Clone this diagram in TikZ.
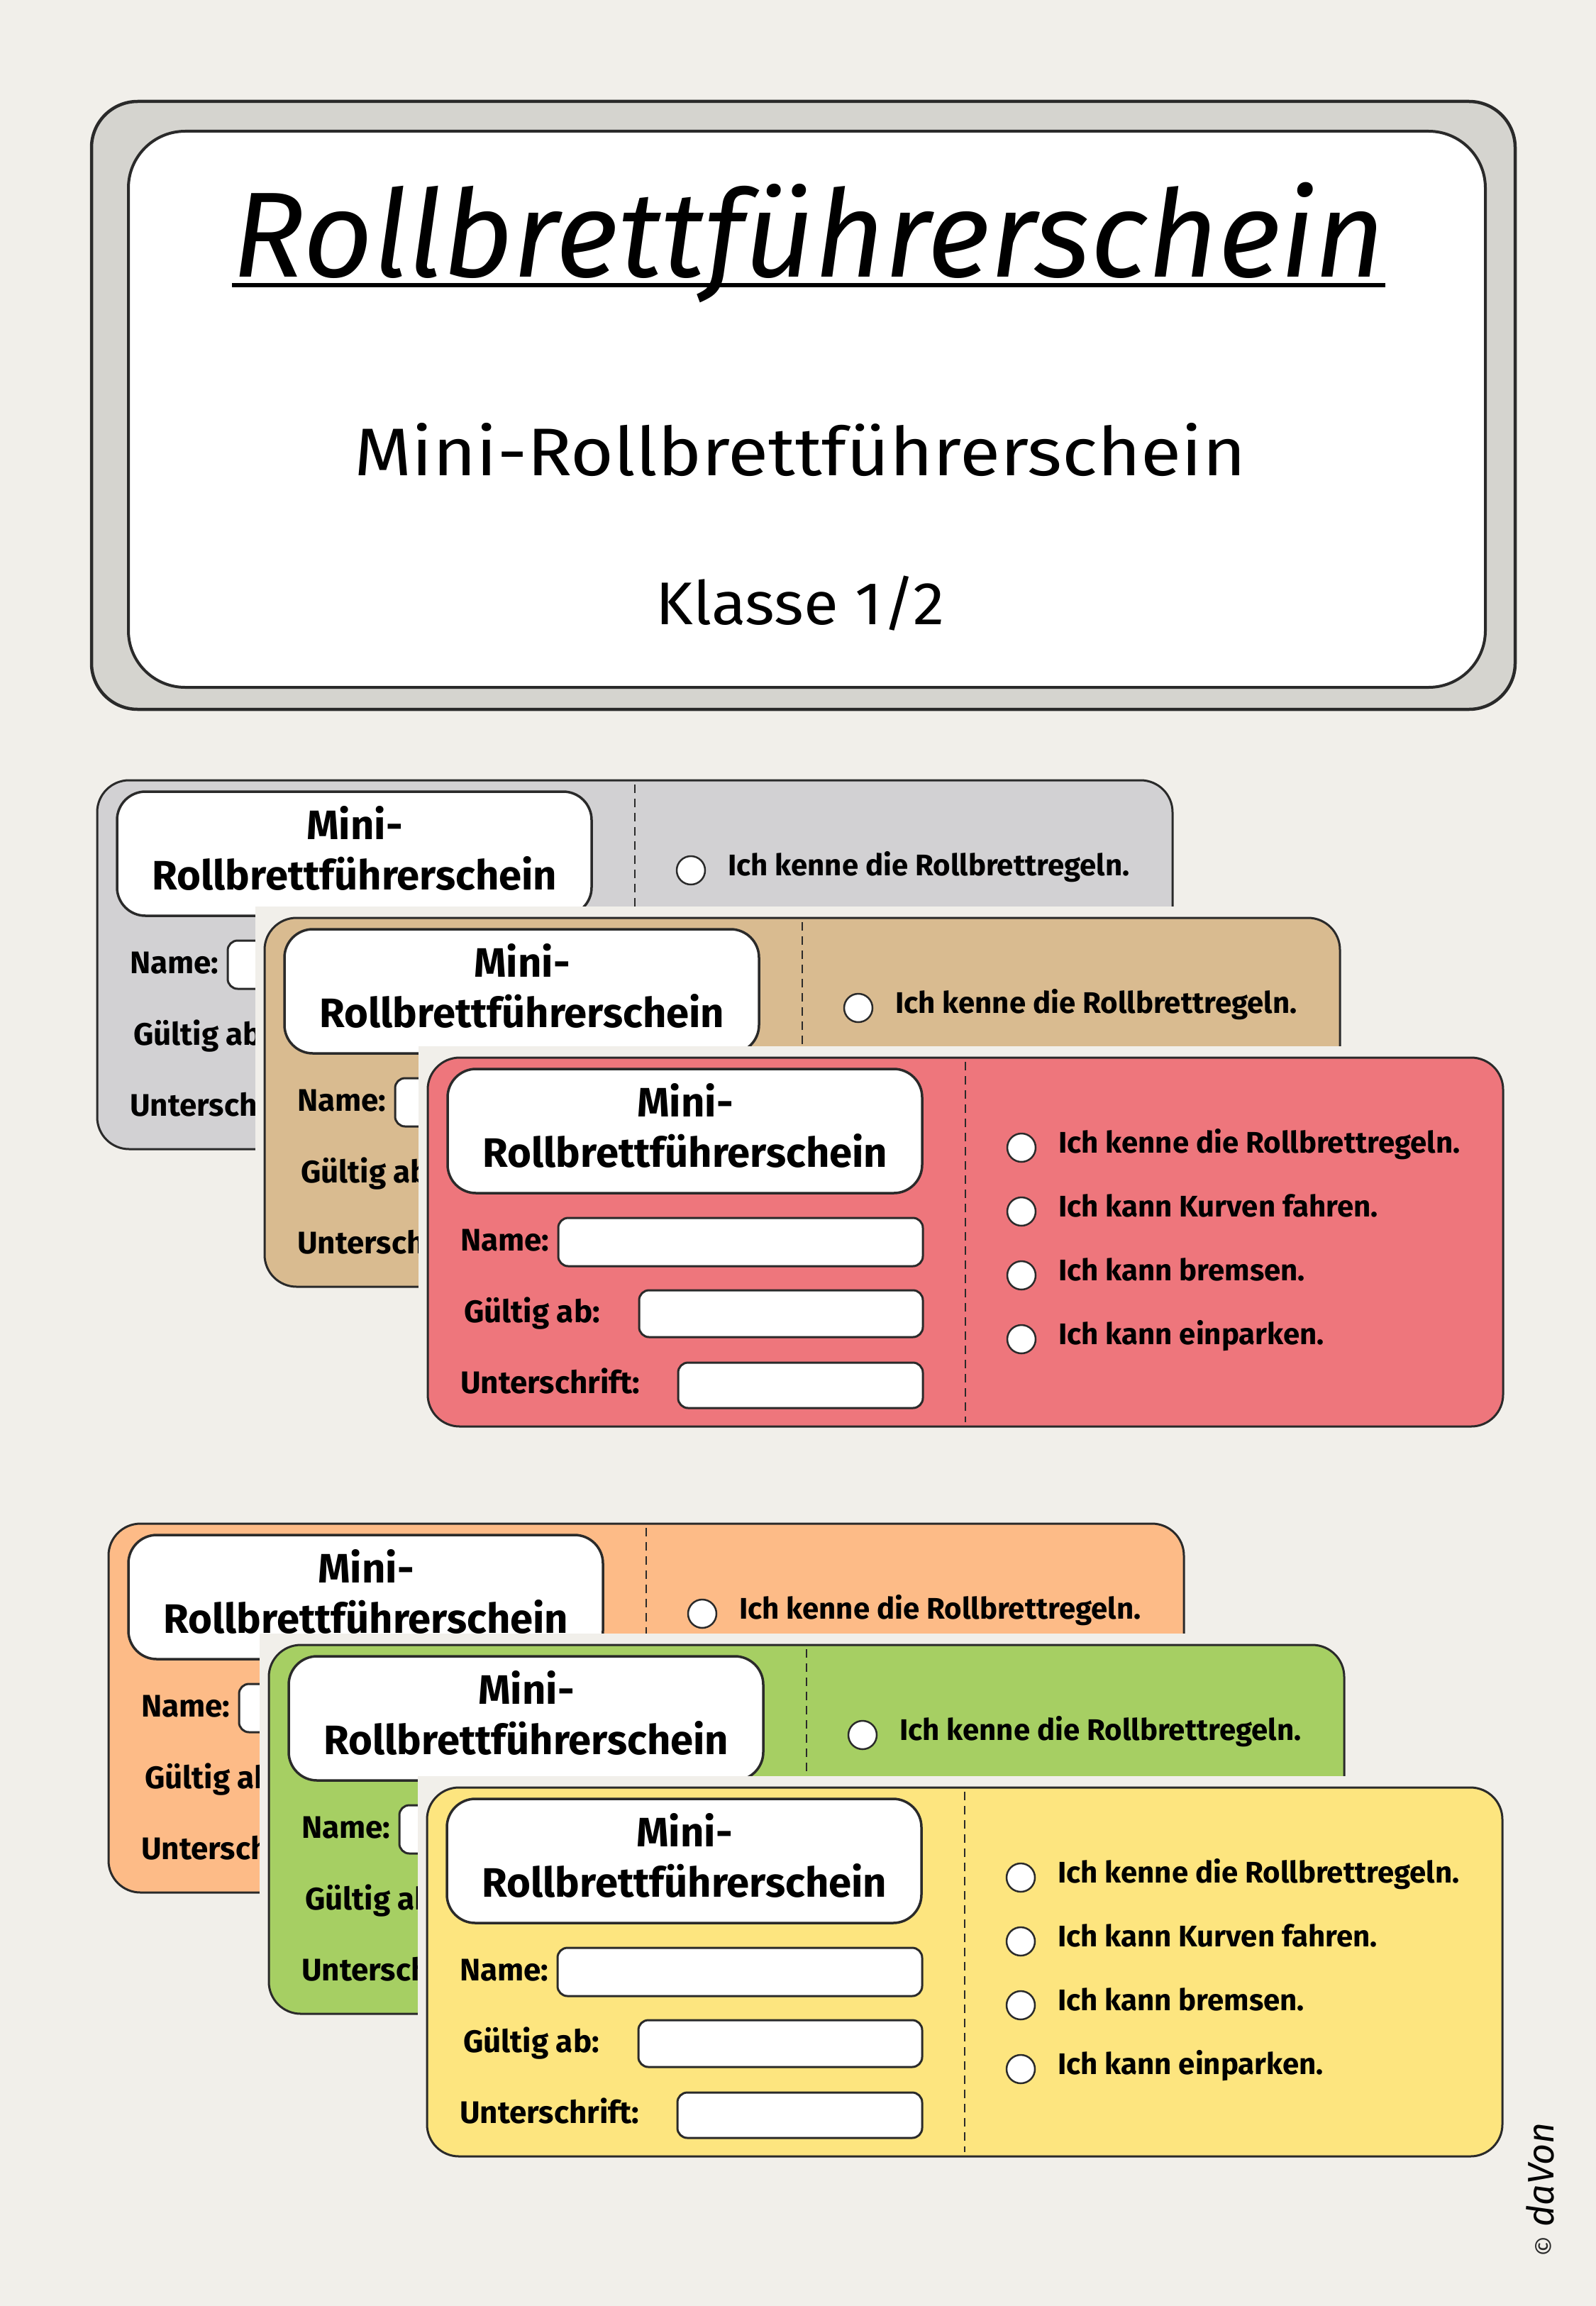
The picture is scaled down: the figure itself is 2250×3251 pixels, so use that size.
\documentclass[tikz,border=0pt]{standalone}
\usepackage{fontspec}
\setmainfont{Fira Sans}
\newfontfamily\subfont[FakeStretch=1.1]{Fira Sans}
\newfontfamily\klfont[FakeStretch=1.05]{Fira Sans}
\definecolor{bgc}{HTML}{F1EFEA}
\definecolor{framegray}{HTML}{D5D4CF}
\definecolor{linec}{HTML}{2A2A2A}
\definecolor{cgray}{HTML}{D2D1D3}
\definecolor{ctan}{HTML}{D9BB90}
\definecolor{cred}{HTML}{EE767C}
\definecolor{corange}{HTML}{FDBB87}
\definecolor{cgreen}{HTML}{A6CF63}
\definecolor{cyellow}{HTML}{FDE57F}
\tikzset{
  edge/.style={draw=linec, line width=3pt},
  cutline/.style={draw=linec, line width=1.8pt, dash pattern=on 12pt off 8pt},
  cardtitle/.style={anchor=base, inner sep=0pt, font=\fontsize{58}{58}\selectfont\bfseries},
  fieldlabel/.style={anchor=base west, inner sep=0pt, font=\fontsize{44}{44}\selectfont\bfseries},
  itemtext/.style={anchor=base west, inner sep=0pt, font=\fontsize{42}{42}\selectfont\bfseries},
  tick/.style={circle, draw=linec, line width=2.5pt, fill=white, minimum size=40pt, inner sep=0pt},
}
\newcommand{\rbitem}[3]{% #1 name, #2 y, #3 text
  \node[tick] (#1c) at (837,#2) {};
  \node[itemtext] (#1t) at (889,#2+7) {#3};
}
\newcommand{\rbcard}[5]{% #1 name, #2 x, #3 y, #4 colour, #5 number of items
\begin{scope}[shift={(#2,#3)}]
  \fill[bgc] (-13,-16) rectangle (1529,536);
  \draw[edge, fill=#4, rounded corners=45pt] (0,0) rectangle (1516,520);
  \coordinate (#1-dt) at (758,6);
  \coordinate (#1-db) at (758,514);
  \draw[cutline] (#1-dt) -- (#1-db);
  \draw[edge, line width=3.5pt, fill=white, rounded corners=40pt] (28,16) rectangle (697,191);
  \node[cardtitle] (#1-mini) at (363,83) {Mini-};
  \node[cardtitle] (#1-rb) at (363,154) {Rollbrettführerschein};
  \node[fieldlabel] (#1-name) at (46,272) {Name:};
  \draw[edge, fill=white, rounded corners=14pt] (184,226) rectangle (698,294);
  \node[fieldlabel] (#1-gab) at (51,373) {Gültig ab:};
  \draw[edge, fill=white, rounded corners=14pt] (298,328) rectangle (698,394);
  \node[fieldlabel] (#1-us) at (46,473) {Unterschrift:};
  \draw[edge, fill=white, rounded corners=14pt] (353,430) rectangle (698,494);
  \rbitem{#1-i1}{127}{Ich kenne die Rollbrettregeln.}
  \ifnum#5>1
  \rbitem{#1-i2}{217}{Ich kann Kurven fahren.}
  \rbitem{#1-i3}{307}{Ich kann bremsen.}
  \rbitem{#1-i4}{397}{Ich kann einparken.}
  \fi
\end{scope}}
\begin{document}
\begin{tikzpicture}[x=1pt,y=-1pt]
\useasboundingbox (0,0) rectangle (2250,3251);
\fill[bgc] (0,0) rectangle (2250,3251);
% title frame
\draw[draw=linec, line width=4.5pt, fill=framegray, rounded corners=65pt] (129,143) rectangle (2136,1000);
\draw[draw=linec, line width=4pt, fill=white, rounded corners=80pt] (181,185) rectangle (2094,969);
\node[anchor=base, inner sep=0pt, font=\fontsize{171}{171}\selectfont\itshape] (title) at (1140,390) {Rollbrettführerschein};
\coordinate (ul) at (0,402);
\draw[line width=6pt, black] (title.west |- ul) -- (title.east |- ul);
\node[anchor=base, inner sep=0pt, font=\subfont\fontsize{95}{95}\selectfont] (sub) at (1128,670) {Mini-Rollbrettführerschein};
\node[anchor=base, inner sep=0pt, font=\klfont\fontsize{85}{85}\selectfont] (klasse) at (1128,880) {Klasse 1/2};
% cards group 1
\rbcard{gray}{137}{1100}{cgray}{1}
\rbcard{tan}{373}{1294}{ctan}{1}
\rbcard{red}{603}{1491}{cred}{4}
% cards group 2
\rbcard{orange}{153}{2148}{corange}{1}
\rbcard{green}{379}{2319}{cgreen}{1}
\rbcard{yellow}{602}{2520}{cyellow}{4}
% signature
\node[rotate=90, inner sep=0pt, font=\fontsize{36}{36}\selectfont, text=linec] (copy) at (2178,3167) {©};
\node[rotate=90, anchor=base west, inner sep=0pt, font=\fontsize{52}{52}\selectfont\itshape] (sig) at (2190,3140) {daVon};
\end{tikzpicture}
\end{document}
